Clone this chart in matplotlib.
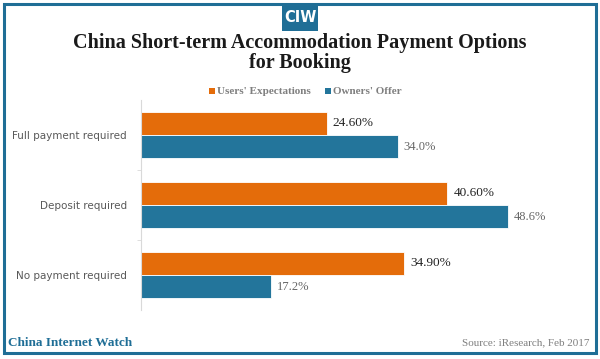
import numpy as np
import matplotlib.pyplot as plt
from matplotlib.patches import Rectangle

categories = ["Full payment required", "Deposit required", "No payment required"]
users_expect = [24.60, 40.60, 34.90]
owners_offer = [34.0, 48.6, 17.2]
users_labels = ["24.60%", "40.60%", "34.90%"]
owners_labels = ["34.0%", "48.6%", "17.2%"]

ORANGE = "#E46C0A"
BLUE = "#23759B"
FRAME = "#1F6E96"

W, H = 600, 359
fig = plt.figure(figsize=(W / 100, H / 100), dpi=100)


def fx(px):
    return px / W


def fy(py):
    return 1 - py / H


# outer frame
fig.patches.append(Rectangle((fx(3.5), fy(352.5)), fx(592), 349 / H, transform=fig.transFigure,
                             fill=False, edgecolor=FRAME, linewidth=2.2))

# CIW badge
fig.patches.append(Rectangle((fx(282), fy(31)), fx(36), 28 / H, transform=fig.transFigure,
                             facecolor=FRAME, edgecolor="none"))
fig.text(fx(300), fy(17.5), "CIW", ha="center", va="center", color="white",
         fontsize=10.5, fontweight="bold", family="DejaVu Sans")

fig.text(fx(300), fy(43), "China Short-term Accommodation Payment Options", ha="center", va="center",
         fontsize=14.5, fontweight="bold", family="Liberation Serif", color="#1a1a1a")
fig.text(fx(300), fy(63), "for Booking", ha="center", va="center",
         fontsize=14.5, fontweight="bold", family="Liberation Serif", color="#1a1a1a")

# legend
fig.patches.append(Rectangle((fx(209), fy(94)), fx(6), 6 / H, transform=fig.transFigure,
                             facecolor=ORANGE, edgecolor="none"))
fig.text(fx(217), fy(91), "Users' Expectations", ha="left", va="center", fontsize=8,
         fontweight="bold", family="Liberation Serif", color="#7f7f7f")
fig.patches.append(Rectangle((fx(325), fy(94)), fx(6), 6 / H, transform=fig.transFigure,
                             facecolor=BLUE, edgecolor="none"))
fig.text(fx(333), fy(91), "Owners' Offer", ha="left", va="center", fontsize=8,
         fontweight="bold", family="Liberation Serif", color="#7f7f7f")

ax = fig.add_axes([fx(141), fy(310), fx(556 - 141), 210 / H])
y = np.arange(len(categories))
h = 0.32
ax.barh(y - 0.165, users_expect, height=h, color=ORANGE, edgecolor="white", linewidth=0.6)
ax.barh(y + 0.165, owners_offer, height=h, color=BLUE, edgecolor="white", linewidth=0.6)

for i in range(len(categories)):
    ax.text(users_expect[i] + 0.8, y[i] - 0.165, users_labels[i], va="center", ha="left",
            fontsize=9.5, family="Liberation Serif", color="#222222")
    ax.text(owners_offer[i] + 0.8, y[i] + 0.165, owners_labels[i], va="center", ha="left",
            fontsize=9, family="Liberation Serif", color="#666666")

ax.set_xlim(0, 55)
ax.set_ylim(2.5, -0.5)
ax.set_xticks([])
ax.set_yticks(y)
ax.set_yticklabels(categories, fontsize=7.5, color="#595959", family="DejaVu Sans")
ax.set_yticks([0.5, 1.5], minor=True)
ax.tick_params(axis="y", which="major", length=0, pad=10)
ax.tick_params(axis="y", which="minor", length=3, color="#d9d9d9")
for s in ["top", "right", "bottom"]:
    ax.spines[s].set_visible(False)
ax.spines["left"].set_color("#d9d9d9")

fig.text(fx(8), fy(343), "China Internet Watch", ha="left", va="center", fontsize=9.5,
         fontweight="bold", family="Liberation Serif", color=FRAME)
fig.text(fx(589), fy(343), "Source: iResearch, Feb 2017", ha="right", va="center", fontsize=8,
         family="Liberation Serif", color="#7f7f7f")

fig.savefig("out.png", dpi=100)
